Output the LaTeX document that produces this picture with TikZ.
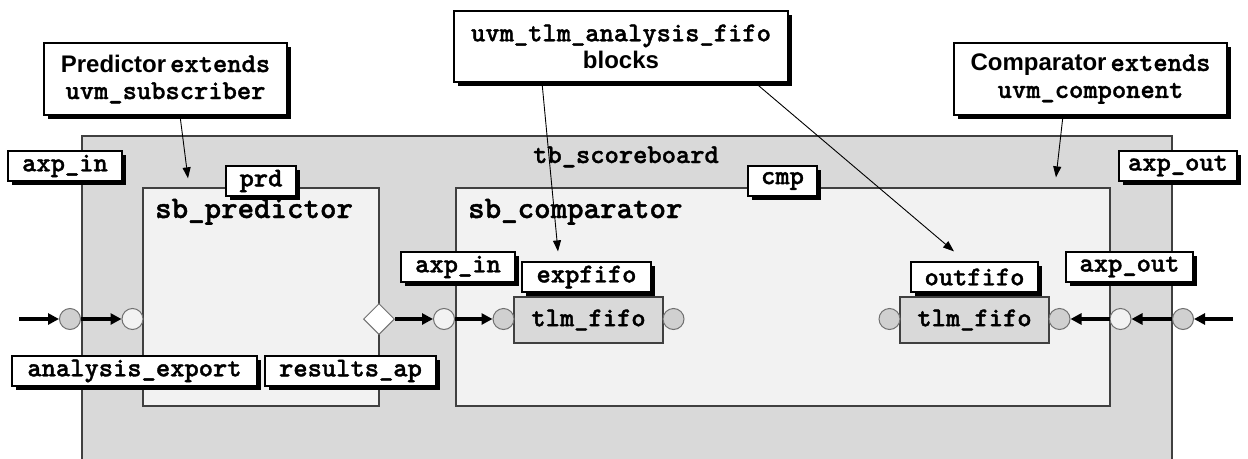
\documentclass[tikz,border=0pt]{standalone}
\usepackage{fontspec}
\setmainfont{Liberation Sans}
\newfontfamily\mono{lmmonolt10-bold.otf}[FakeBold=1.3]
\usetikzlibrary{arrows.meta,shapes.geometric,shadows}
\definecolor{tbfill}{HTML}{D9D9D9}
\definecolor{compfill}{HTML}{F2F2F2}
\definecolor{portgray}{HTML}{D0D0D0}
\definecolor{edgegray}{HTML}{404040}
\definecolor{portedge}{HTML}{707070}
\newcommand\lblfont{\mono\fontsize{27.2}{30}\selectfont}
\newcommand\sansb{\rmfamily\bfseries\fontsize{24}{27}\selectfont}
\begin{document}
\begin{tikzpicture}[x=1pt,y=-1pt,
  comp/.style={draw=edgegray, line width=1.3pt, inner sep=0pt},
  cname/.style={font=\mono\fontsize{31.4}{34}\selectfont, inner sep=0pt},
  lbl/.style={draw=black, line width=1.2pt, fill=white, inner sep=0pt,
    minimum height=30pt, font=\lblfont,
    drop shadow={shadow xshift=4pt, shadow yshift=-4pt, fill=black, opacity=1}},
  callout/.style={lbl, align=center, font=\mono\fontsize{27.2}{27}\selectfont},
  port/.style={circle, draw=portedge, line width=1pt, minimum size=21pt, inner sep=0pt},
  bigarrow/.style={line width=3.5pt, -{Triangle[length=11pt,width=11pt]}},
  thinarrow/.style={line width=0.9pt, -{Triangle[length=11pt,width=8pt]}}
]
\useasboundingbox (0,0) rectangle (1248,458);

% components
\node[comp, fill=tbfill, minimum width=1090pt, minimum height=326pt] (tb) at (627,299) {};
\node[comp, fill=compfill, minimum width=236pt, minimum height=218pt] (pred) at (261,297) {};
\node[comp, fill=compfill, minimum width=654pt, minimum height=218pt] (cmpr) at (783,297) {};
\node[cname, font=\lblfont, anchor=base] (tbname) at (626,163) {tb\_scoreboard};
\node[cname, anchor=base west] (predname) at (155,218) {sb\_predictor};
\node[cname, anchor=base west] (cmprname) at (468,218) {sb\_comparator};

% fifos
\node[comp, fill=tbfill, minimum width=149pt, minimum height=46pt, font=\lblfont] (fifo1) at (588.5,320) {\raisebox{3pt}{tlm\_fifo}};
\node[comp, fill=tbfill, minimum width=149pt, minimum height=46pt, font=\lblfont] (fifo2) at (974.5,320) {\raisebox{3pt}{tlm\_fifo}};

% ports
\node[port, fill=portgray] (c1) at (70,319) {};
\node[port, fill=compfill] (c2) at (132.5,319) {};
\node[diamond, draw=portedge, line width=1pt, fill=white, minimum width=31pt, minimum height=31pt, inner sep=0pt] (dm) at (379,319) {};
\node[port, fill=compfill] (c3) at (444,319) {};
\node[port, fill=portgray] (c4) at (503.5,319) {};
\node[port, fill=portgray] (c5) at (673.5,319) {};
\node[port, fill=portgray] (c6) at (889.5,319) {};
\node[port, fill=portgray] (c7) at (1059.5,319) {};
\node[port, fill=compfill] (c8) at (1120.5,319) {};
\node[port, fill=portgray] (c9) at (1183,319) {};
\coordinate (inL) at (19,319);
\coordinate (inR) at (1233,319);

% data arrows
\draw[bigarrow] (inL) -- (c1);
\draw[bigarrow] (c1) -- (c2);
\draw[bigarrow] (dm) -- (c3);
\draw[bigarrow] (c3) -- (c4);
\draw[bigarrow] (inR) -- (c9);
\draw[bigarrow] (c9) -- (c8);
\draw[bigarrow] (c8) -- (c7);

% labels
\node[lbl, minimum width=114pt] (lAxpIn) at (65,166) {axp\_in};
\node[lbl, minimum width=70pt] (lPrd) at (261,181) {prd};
\node[lbl, minimum width=69pt] (lCmp) at (782.5,181) {cmp};
\node[lbl, minimum width=118pt] (lAxpOut) at (1178,166) {axp\_out};
\node[lbl, minimum width=114pt] (lAxpIn2) at (458,267) {axp\_in};
\node[lbl, minimum width=129pt] (ef) at (586.5,277) {expfifo};
\node[lbl, minimum width=127pt] (of) at (974.5,277) {outfifo};
\node[lbl, minimum width=127pt] (lAxpOut2) at (1129.5,267) {axp\_out};
\node[lbl, minimum width=245pt] (lAE) at (134.5,371) {analysis\_export};
\node[lbl, minimum width=171pt] (lRA) at (350.5,371) {results\_ap};

% callouts
\node[callout, minimum width=243pt, minimum height=72pt] (pc) at (165.5,79)
  {{\sansb Predictor}\kern4pt extends\\uvm\_subscriber};
\node[callout, minimum width=334pt, minimum height=71pt] (uc) at (621,46.5)
  {uvm\_tlm\_analysis\_fifo\\{\sansb blocks}};
\node[callout, minimum width=273pt, minimum height=72pt] (cc) at (1090.5,79)
  {{\sansb Comparator}\kern4pt extends\\uvm\_component};

% callout arrows
\draw[thinarrow] ([xshift=14.5pt]pc.south) -- ([xshift=-73pt,yshift=9pt]pred.north);
\draw[thinarrow] ([xshift=-79pt]uc.south) -- ([xshift=-28.5pt,yshift=10pt]ef.north);
\draw[thinarrow] ([xshift=134pt]uc.south) -- ([xshift=-20.5pt,yshift=10pt]of.north);
\draw[thinarrow] ([xshift=-27.5pt]cc.south) -- ([xshift=273pt,yshift=10pt]cmpr.north);
\end{tikzpicture}
\end{document}
